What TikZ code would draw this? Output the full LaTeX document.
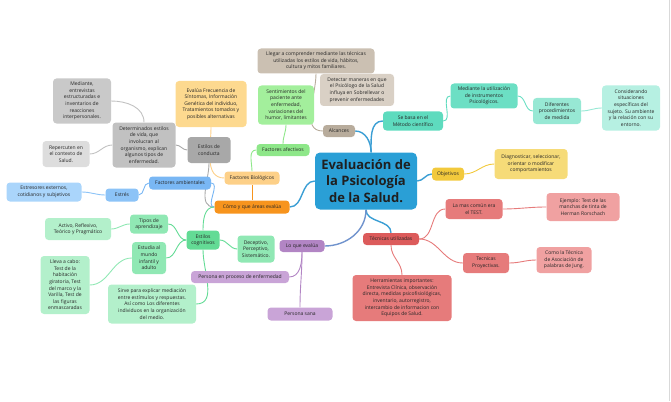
\documentclass[tikz,border=0pt]{standalone}
\usepackage{fontspec}
\setmainfont{Open Sans}
\definecolor{cblue}{HTML}{2A9FD6}
\definecolor{lblue}{HTML}{3A9ED4}
\definecolor{alc}{HTML}{B8AC9C}
\definecolor{lle}{HTML}{CBC0B2}
\definecolor{dtc}{HTML}{D9D0C5}
\definecolor{tea1}{HTML}{5EDBBE}
\definecolor{tea2}{HTML}{6CDFC4}
\definecolor{tea3}{HTML}{97E8D4}
\definecolor{tea4}{HTML}{B6F0E2}
\definecolor{yel1}{HTML}{F2C93C}
\definecolor{yel2}{HTML}{F6DB78}
\definecolor{red1}{HTML}{DC5B5B}
\definecolor{red2}{HTML}{E67B7B}
\definecolor{red3}{HTML}{F0A1A1}
\definecolor{pur1}{HTML}{B285C4}
\definecolor{pur2}{HTML}{C9A4D7}
\definecolor{ora1}{HTML}{F7941D}
\definecolor{ora2}{HTML}{FDD088}
\definecolor{ora3}{HTML}{FDD98F}
\definecolor{grn1}{HTML}{8EE789}
\definecolor{grn2}{HTML}{A3EF9C}
\definecolor{gry1}{HTML}{A8A8A8}
\definecolor{gry2}{HTML}{C1C1C1}
\definecolor{gry3}{HTML}{C9C9C9}
\definecolor{gry4}{HTML}{DDDDDD}
\definecolor{blu1}{HTML}{79B7F4}
\definecolor{blu2}{HTML}{8CC3F7}
\definecolor{blu3}{HTML}{AAD5FB}
\definecolor{mnt1}{HTML}{63DB95}
\definecolor{mnt2}{HTML}{90E8B4}
\definecolor{mnt3}{HTML}{B3F0CB}
\pgfdeclarelayer{bg}
\pgfsetlayers{bg,main}
\begin{document}
\begin{tikzpicture}[x=1pt,y=1pt,
  nd/.style={rounded corners=3.5pt, align=center, inner sep=1.2pt,
    font=\fontsize{5}{6.6}\selectfont, text=black!85},
  sz/.style 2 args={minimum width=#1pt, minimum height=#2pt},
  cb/.style={draw=lblue, line width=1.4pt},
  ln/.style={line width=0.9pt}]
\useasboundingbox (0,0) rectangle (671,-401);
\draw[gray!30, line width=1.2pt] (669.5,0) -- (669.5,-401);

% central
\node[nd, fill=cblue, sz={102}{57}, rounded corners=5pt,
  font=\fontsize{13}{16.5}\selectfont\bfseries, text=black!88] (C) at (366,-181)
  {Evaluación de\\la Psicología\\de la Salud.};

% alcances
\node[nd, fill=lle, sz={117}{25}] (Lle) at (316,-61)
  {Llegar a comprender mediante las técnicas\\utilizadas los estilos de vida, hábitos,\\cultura y mitos familiares.};
\node[nd, fill=dtc, sz={74}{32}] (Dtc) at (357,-90)
  {Detectar maneras en que\\el Psicólogo de la Salud\\influya en Sobrellevar o\\prevenir enfermedades};
\node[nd, fill=alc, sz={32}{12}] (Alc) at (339,-131) {Alcances};

% metodo
\node[nd, fill=tea1, sz={60}{19}] (SB) at (413,-121) {Se basa en el\\Método científico};
\node[nd, fill=tea2, sz={67}{25}] (MU) at (484,-96) {Mediante la utilización\\de instrumentos\\Psicológicos.};
\node[nd, fill=tea3, sz={48}{26}] (Dif) at (557,-111) {Diferentes\\procedimientos\\de medida};
\node[nd, fill=tea4, sz={58}{45}] (Cons) at (631,-108)
  {Considerando\\situaciones\\específicas del\\sujeto. Su ambiente\\y la relación con su\\entorno.};

% objetivos
\node[nd, fill=yel1, sz={32}{13}] (Obj) at (448,-174) {Objetivos};
\node[nd, fill=yel2, sz={73}{30}] (Diag) at (531,-164)
  {Diagnosticar, seleccionar,\\orientar o modificar\\comportamientos};

% tecnicas
\node[nd, fill=red1, sz={56}{12}] (Tec) at (391,-239) {Técnicas utilizadas};
\node[nd, fill=red2, sz={57}{20}] (LMC) at (474,-209) {La mas común era\\el TEST.};
\node[nd, fill=red3, sz={73}{28}] (Ej) at (583,-207)
  {Ejemplo: Test de las\\manchas de tinta de\\Herman Rorschach};
\node[nd, fill=red2, sz={46}{20}] (TP) at (486,-263) {Tecnicas\\Proyectivas.};
\node[nd, fill=red3, sz={55}{26}] (CJ) at (564,-260)
  {Como la Técnica\\de Asociación de\\palabras de Jung.};
\node[nd, fill=red2, sz={99}{46}] (Her) at (402,-298)
  {Herramientas importantes:\\Entrevista Clínica, observación\\directa, medidas psicofisiológicas,\\inventario, autorregistro,\\intercambio de informacion con\\Equipos de Salud.};

% lo que evalua
\node[nd, fill=pur1, sz={45}{12}] (LQE) at (302,-246) {Lo que evalúa};
\node[nd, fill=pur2, sz={98}{12}] (PEP) at (240,-277) {Persona en proceso de enfermedad};
\node[nd, fill=pur2, sz={65}{13}] (PS) at (300,-314) {Persona sana};

% como y que areas
\node[nd, fill=ora1, sz={75}{13}] (Como) at (252,-207) {Cómo y que áreas evalúa};
\node[nd, fill=ora2, sz={55}{13}] (FB) at (252,-178) {Factores Biológicos};
\node[nd, fill=ora3, sz={71}{46}] (Ev) at (211,-104)
  {Evalúa Frecuencia de\\Síntomas, Información\\Genética del individuo,\\Tratamientos tomados y\\posibles alternativas};
\node[nd, fill=grn1, sz={53}{12}] (FAf) at (283,-150) {Factores afectivos};
\node[nd, fill=grn2, sz={56}{39}] (Sen) at (286,-105)
  {Sentimientos del\\paciente ante\\enfermedad,\\variaciones del\\humor, limitantes};

% estilos de conducta
\node[nd, fill=gry1, sz={43}{26}] (EdC) at (209,-150) {Estilos de\\conducta};
\node[nd, fill=gry2, sz={63}{45}] (Det) at (144,-145)
  {Determinados estilos\\de vida, que\\involucran al\\organismo, explican\\algunos tipos de\\enfermedad.};
\node[nd, fill=gry3, sz={58}{45}] (Med) at (82,-101)
  {Mediante,\\entrevistas\\estructuradas e\\inventarios de\\reacciones\\interpersonales.};
\node[nd, fill=gry4, sz={47}{26}] (Rep) at (66,-154) {Repercuten en\\el contexto de\\Salud.};

% factores ambientales
\node[nd, fill=blu1, sz={62}{13}] (FAm) at (180,-183) {Factores ambientales};
\node[nd, fill=blu2, sz={33}{13}] (Str) at (122,-195) {Estrés};
\node[nd, fill=blu3, sz={75}{19}] (Sto) at (44,-192) {Estresores externos,\\cotidianos y subjetivos};

% estilos cognitivos
\node[nd, fill=mnt1, sz={33}{19}] (EC) at (203,-240) {Estilos\\cognitivos};
\node[nd, fill=mnt2, sz={37}{27}] (Dec) at (256,-249) {Deceptivo,\\Perceptivo,\\Sistemático.};
\node[nd, fill=mnt2, sz={38}{19}] (Tip) at (149,-224) {Tipos de\\aprendizaje};
\node[nd, fill=mnt3, sz={66}{22}] (Act) at (78,-229) {Activo, Reflexivo,\\Teórico y Pragmático};
\node[nd, fill=mnt2, sz={34}{32}] (Est) at (149,-258) {Estudia al\\mundo\\infantil y\\adulto};
\node[nd, fill=mnt3, sz={49}{58}] (LL) at (65,-285)
  {Lleva a cabo:\\Test de la\\habitación\\giratoria, Test\\del marco y la\\Varilla, Test de\\las figuras\\enmascaradas};
\node[nd, fill=mnt3, sz={88}{39}] (Sir) at (152,-304)
  {Sirve para explicar mediación\\entre estímulos y respuestas.\\Así como Los diferentes\\individuos en la organización\\del medio.};

% connectors (behind nodes)
\begin{pgfonlayer}{bg}
% from central
\draw[cb] (C.80) to[out=90,in=0] (Alc.east);
\draw[cb] (C.80) to[out=90,in=180] (SB.west);
\draw[cb] (C.east) to[out=0,in=180] (Obj.west);
\draw[cb] (C.south) to[out=270,in=90] (Tec.north);
\draw[cb, draw=lblue!55!pur1] (C.south) to[out=270,in=0] (LQE.east);
\draw[cb] (C.west) to[out=180,in=0] (Como.east);
% alcances
\draw[ln, draw=alc] (Alc.west) to[out=180,in=270] (Lle.south);
% metodo
\draw[ln, draw=tea1] (SB.east) to[out=0,in=180] (MU.west);
\draw[ln, draw=tea2] (MU.east) to[out=0,in=180] (Dif.west);
\draw[ln, draw=tea3] (Dif.east) to[out=0,in=180] (Cons.west);
% objetivos
\draw[ln, draw=yel1] (Obj.east) to[out=0,in=180] (Diag.west);
% tecnicas
\draw[ln, draw=red2] (Tec.east) to[out=0,in=180] (LMC.west);
\draw[ln, draw=red2] (Tec.east) to[out=0,in=180] (TP.west);
\draw[ln, draw=red2] (Tec.south) to[out=270,in=90] (Her.north);
\draw[ln, draw=red2] (LMC.east) to[out=0,in=180] (Ej.west);
\draw[ln, draw=red2] (TP.east) to[out=0,in=180] (CJ.west);
% lo que evalua
\draw[ln, draw=pur1] (LQE.south) to[out=270,in=0] (PEP.east);
\draw[ln, draw=pur1] (LQE.south) to[out=270,in=90] (PS.north);
% como
\draw[ln, draw=ora1] (Como.north) -- (FB.south);
\draw[ln, draw=grn1] (FB.north) to[out=90,in=180] (FAf.west);
\draw[ln, draw=grn1] (FAf.north) to[out=90,in=270] (Sen.south);
\draw[ln, draw=ora2] (FB.west) to[out=180,in=270] (Ev.south);
\draw[ln, draw=gry1] (Como.west) to[out=180,in=270] (EdC.south);
\draw[ln, draw=blu1] (Como.west) to[out=180,in=0] (FAm.east);
\draw[ln, draw=mnt1] (Como.west) to[out=180,in=90] (EC.north);
% estilos de conducta
\draw[ln, draw=gry1] (EdC.west) to[out=180,in=0] (Det.east);
\draw[ln, draw=gry2] (Det.north) to[out=90,in=0] (Med.east);
\draw[ln, draw=gry2] (Det.west) to[out=180,in=0] (Rep.east);
% ambientales
\draw[ln, draw=blu1] (FAm.west) to[out=180,in=0] (Str.east);
\draw[ln, draw=blu2] (Str.west) to[out=180,in=0] (Sto.east);
% cognitivos
\draw[ln, draw=mnt1] (EC.east) to[out=0,in=180] (Dec.west);
\draw[ln, draw=mnt1] (EC.west) to[out=180,in=0] (Tip.east);
\draw[ln, draw=mnt1] (EC.west) to[out=180,in=0] (Est.east);
\draw[ln, draw=mnt1] (EC.south) to[out=270,in=0] (Sir.east);
\draw[ln, draw=mnt2] (Tip.west) to[out=180,in=0] (Act.east);
\draw[ln, draw=mnt2] (Est.west) to[out=180,in=0] (LL.east);
\end{pgfonlayer}
\end{tikzpicture}
\end{document}
